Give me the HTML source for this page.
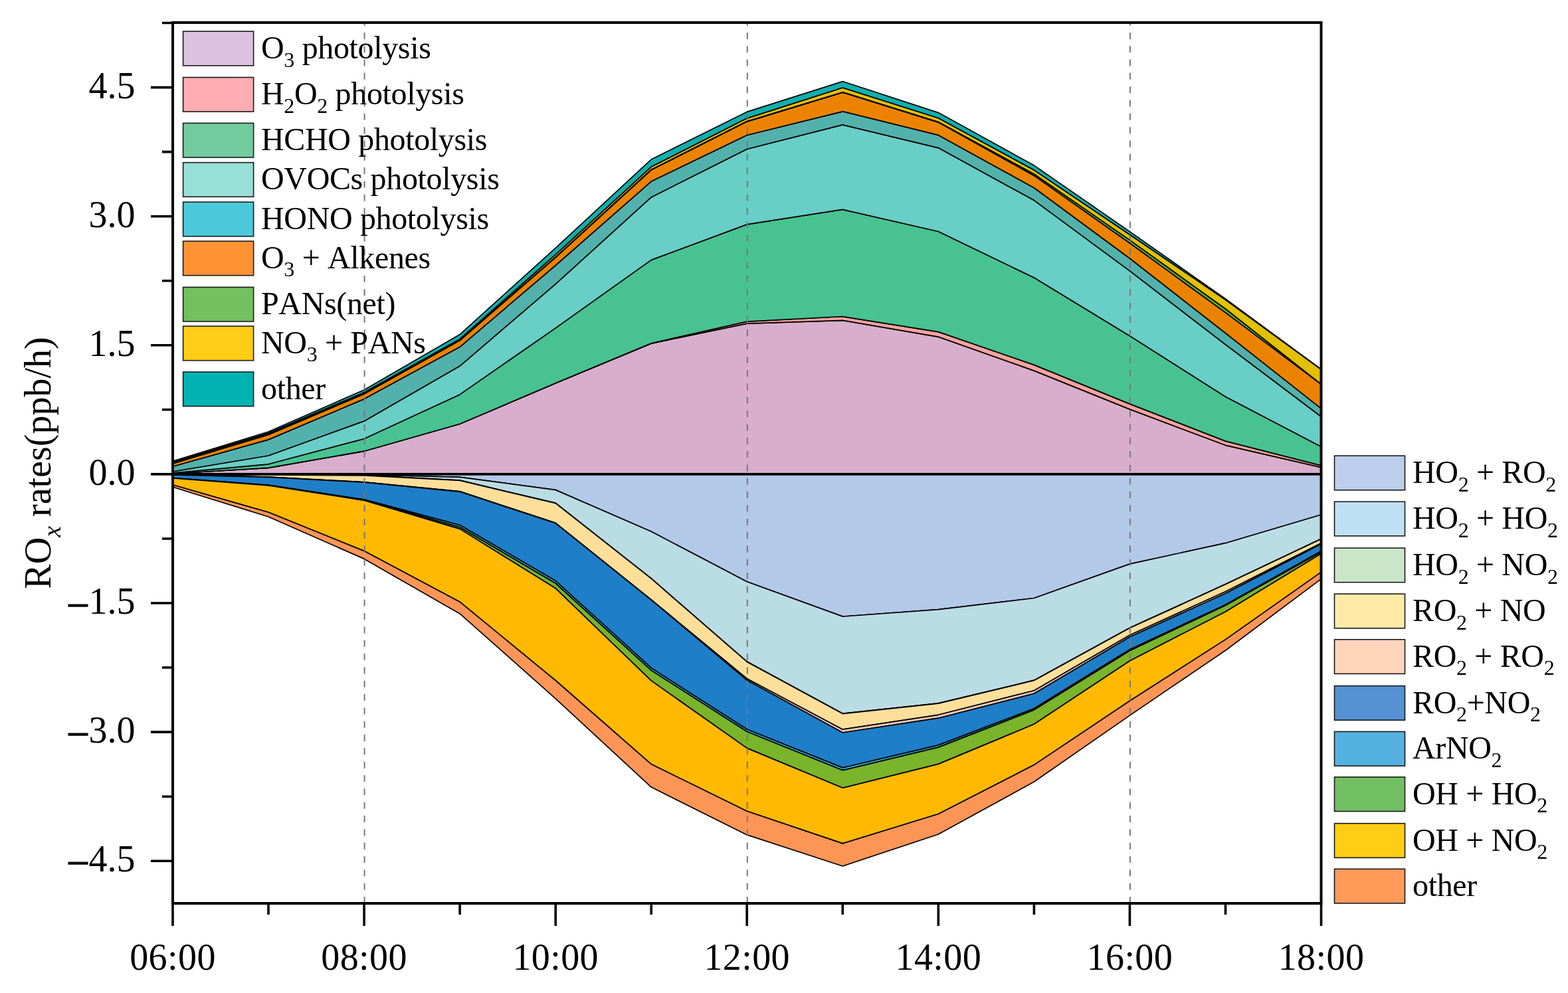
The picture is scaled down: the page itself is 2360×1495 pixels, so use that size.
<!DOCTYPE html><html><head><meta charset="utf-8"><title>ROx rates</title><style>html,body{margin:0;padding:0;background:#fff;}svg{display:block;}text{font-family:"Liberation Serif","Times New Roman",serif;fill:#000;font-kerning:none;}.lg{font-size:48px;letter-spacing:-0.35px;}.ax{font-size:56px;}.axx{letter-spacing:0.4px;}</style></head><body>
<svg width="2360" height="1495" viewBox="0 0 2360 1495">
<rect width="2360" height="1495" fill="#fff"/>
<g stroke="#000" stroke-width="1.7" stroke-linejoin="round">
<path fill="#D8AECC" d="M260 713 L404 704.4 L548.1 679.3 L692.1 638.3 L836.2 577 L980.2 517.1 L1124.2 487.1 L1268.3 482.4 L1412.3 507.1 L1556.4 558.1 L1700.4 616.1 L1844.5 670.3 L1988.5 703.7 L1988.5 713.9 L1844.5 713.9 L1700.4 713.9 L1556.4 713.9 L1412.3 713.9 L1268.3 713.9 L1124.2 713.9 L980.2 713.9 L836.2 713.9 L692.1 713.9 L548.1 713.9 L404 713.9 L260 713.9Z"/>
<path fill="#F7A39B" d="M260 713 L404 704.3 L548.1 679.2 L692.1 638.2 L836.2 576.8 L980.2 516.8 L1124.2 484.1 L1268.3 476.5 L1412.3 499.6 L1556.4 549.4 L1700.4 608.1 L1844.5 664.1 L1988.5 700.9 L1988.5 703.7 L1844.5 670.3 L1700.4 616.1 L1556.4 558.1 L1412.3 507.1 L1268.3 482.4 L1124.2 487.1 L980.2 517.1 L836.2 577 L692.1 638.3 L548.1 679.3 L404 704.4 L260 713Z"/>
<path fill="#49C292" d="M260 712.1 L404 698.8 L548.1 660.6 L692.1 593.9 L836.2 493.9 L980.2 391.4 L1124.2 337.9 L1268.3 315.4 L1412.3 348.5 L1556.4 418.1 L1700.4 505.7 L1844.5 597.3 L1988.5 672.6 L1988.5 700.9 L1844.5 664.1 L1700.4 608.1 L1556.4 549.4 L1412.3 499.6 L1268.3 476.5 L1124.2 484.1 L980.2 516.8 L836.2 576.8 L692.1 638.2 L548.1 679.2 L404 704.3 L260 713Z"/>
<path fill="#69CEC6" d="M260 710 L404 686 L548.1 633.9 L692.1 551.1 L836.2 427.6 L980.2 296.9 L1124.2 224.5 L1268.3 187.9 L1412.3 222.6 L1556.4 301.6 L1700.4 407.9 L1844.5 518.7 L1988.5 627.2 L1988.5 672.6 L1844.5 597.3 L1700.4 505.7 L1556.4 418.1 L1412.3 348.5 L1268.3 315.4 L1124.2 337.9 L980.2 391.4 L836.2 493.9 L692.1 593.9 L548.1 660.6 L404 698.8 L260 712.1Z"/>
<path fill="#53B1AC" d="M260 702.3 L404 661.9 L548.1 600.6 L692.1 522.3 L836.2 399.5 L980.2 273.1 L1124.2 203.5 L1268.3 167.8 L1412.3 203.4 L1556.4 282.8 L1700.4 389 L1844.5 501.5 L1988.5 615.1 L1988.5 627.2 L1844.5 518.7 L1700.4 407.9 L1556.4 301.6 L1412.3 222.6 L1268.3 187.9 L1124.2 224.5 L980.2 296.9 L836.2 427.6 L692.1 551.1 L548.1 633.9 L404 686 L260 710Z"/>
<path fill="#EC8300" d="M260 697.9 L404 654.5 L548.1 593.1 L692.1 512.6 L836.2 387.6 L980.2 255.8 L1124.2 183.1 L1268.3 139.2 L1412.3 184.1 L1556.4 264.4 L1700.4 366 L1844.5 470.6 L1988.5 578.5 L1988.5 615.1 L1844.5 501.5 L1700.4 389 L1556.4 282.8 L1412.3 203.4 L1268.3 167.8 L1124.2 203.5 L980.2 273.1 L836.2 399.5 L692.1 522.3 L548.1 600.6 L404 661.9 L260 702.3Z"/>
<path fill="#5DB030" d="M260 697.1 L404 653.5 L548.1 592 L692.1 511.8 L836.2 387 L980.2 255.2 L1124.2 182.5 L1268.3 138.7 L1412.3 183.6 L1556.4 262 L1700.4 361.4 L1844.5 465 L1988.5 578.3 L1988.5 578.5 L1844.5 470.6 L1700.4 366 L1556.4 264.4 L1412.3 184.1 L1268.3 139.2 L1124.2 183.1 L980.2 255.8 L836.2 387.6 L692.1 512.6 L548.1 593.1 L404 654.5 L260 697.9Z"/>
<path fill="#E3C000" d="M260 696.1 L404 652 L548.1 590.8 L692.1 510.5 L836.2 383.2 L980.2 251.1 L1124.2 178.1 L1268.3 132 L1412.3 177.7 L1556.4 256.1 L1700.4 353.3 L1844.5 451.2 L1988.5 556.3 L1988.5 578.3 L1844.5 465 L1700.4 361.4 L1556.4 262 L1412.3 183.6 L1268.3 138.7 L1124.2 182.5 L980.2 255.2 L836.2 387 L692.1 511.8 L548.1 592 L404 653.5 L260 697.1Z"/>
<path fill="#10AFAF" d="M260 694.4 L404 650 L548.1 587 L692.1 503.6 L836.2 373.4 L980.2 240 L1124.2 168.4 L1268.3 122.6 L1412.3 169.6 L1556.4 249.1 L1700.4 348.7 L1844.5 449.9 L1988.5 556 L1988.5 556.3 L1844.5 451.2 L1700.4 353.3 L1556.4 256.1 L1412.3 177.7 L1268.3 132 L1124.2 178.1 L980.2 251.1 L836.2 383.2 L692.1 510.5 L548.1 590.8 L404 652 L260 696.1Z"/>
<path fill="#B3C9E8" d="M260 714.5 L404 714.6 L548.1 715 L692.1 718.4 L836.2 737.6 L980.2 800.3 L1124.2 875.7 L1268.3 928.1 L1412.3 917.7 L1556.4 900.5 L1700.4 849.1 L1844.5 817.7 L1988.5 775 L1988.5 713.9 L1844.5 713.9 L1700.4 713.9 L1556.4 713.9 L1412.3 713.9 L1268.3 713.9 L1124.2 713.9 L980.2 713.9 L836.2 713.9 L692.1 713.9 L548.1 713.9 L404 713.9 L260 713.9Z"/>
<path fill="#BADCE5" d="M260 714.5 L404 714.8 L548.1 715.5 L692.1 723.2 L836.2 757.4 L980.2 870.9 L1124.2 996.1 L1268.3 1074.3 L1412.3 1058.9 L1556.4 1024.2 L1700.4 945.3 L1844.5 879.4 L1988.5 811.2 L1988.5 775 L1844.5 817.7 L1700.4 849.1 L1556.4 900.5 L1412.3 917.7 L1268.3 928.1 L1124.2 875.7 L980.2 800.3 L836.2 737.6 L692.1 718.4 L548.1 715 L404 714.6 L260 714.5Z"/>
<path fill="#C4E6C2" d="M260 714.6 L404 715 L548.1 716 L692.1 723.5 L836.2 757.7 L980.2 871.2 L1124.2 996.4 L1268.3 1074.6 L1412.3 1059.2 L1556.4 1024.5 L1700.4 945.6 L1844.5 879.7 L1988.5 811.5 L1988.5 811.2 L1844.5 879.4 L1700.4 945.3 L1556.4 1024.2 L1412.3 1058.9 L1268.3 1074.3 L1124.2 996.1 L980.2 870.9 L836.2 757.4 L692.1 723.2 L548.1 715.5 L404 714.8 L260 714.5Z"/>
<path fill="#FDDF9A" d="M260 714.8 L404 718 L548.1 725.9 L692.1 739.8 L836.2 787.4 L980.2 903 L1124.2 1021.7 L1268.3 1098.2 L1412.3 1076.3 L1556.4 1039.7 L1700.4 956.2 L1844.5 890.7 L1988.5 817.8 L1988.5 811.5 L1844.5 879.7 L1700.4 945.6 L1556.4 1024.5 L1412.3 1059.2 L1268.3 1074.6 L1124.2 996.4 L980.2 871.2 L836.2 757.7 L692.1 723.5 L548.1 716 L404 715 L260 714.6Z"/>
<path fill="#F5C8B8" d="M260 715 L404 718.3 L548.1 726.2 L692.1 740.3 L836.2 787.8 L980.2 903.3 L1124.2 1024 L1268.3 1103 L1412.3 1081.2 L1556.4 1044.3 L1700.4 958.9 L1844.5 893.5 L1988.5 819.1 L1988.5 817.8 L1844.5 890.7 L1700.4 956.2 L1556.4 1039.7 L1412.3 1076.3 L1268.3 1098.2 L1124.2 1021.7 L980.2 903 L836.2 787.4 L692.1 739.8 L548.1 725.9 L404 718 L260 714.8Z"/>
<path fill="#1F7EC8" d="M260 719.6 L404 730.4 L548.1 752 L692.1 790.6 L836.2 874.6 L980.2 1005.7 L1124.2 1098 L1268.3 1155.9 L1412.3 1121.9 L1556.4 1066.7 L1700.4 977.9 L1844.5 910.4 L1988.5 829.8 L1988.5 819.1 L1844.5 893.5 L1700.4 958.9 L1556.4 1044.3 L1412.3 1081.2 L1268.3 1103 L1124.2 1024 L980.2 903.3 L836.2 787.8 L692.1 740.3 L548.1 726.2 L404 718.3 L260 715Z"/>
<path fill="#2CB0D3" d="M260 719.8 L404 730.6 L548.1 752.7 L692.1 793.8 L836.2 878.3 L980.2 1009.4 L1124.2 1101.5 L1268.3 1159.7 L1412.3 1125.1 L1556.4 1068.9 L1700.4 979.8 L1844.5 911.5 L1988.5 831.2 L1988.5 829.8 L1844.5 910.4 L1700.4 977.9 L1556.4 1066.7 L1412.3 1121.9 L1268.3 1155.9 L1124.2 1098 L980.2 1005.7 L836.2 874.6 L692.1 790.6 L548.1 752 L404 730.4 L260 719.6Z"/>
<path fill="#79B42B" d="M260 720 L404 730.8 L548.1 753.4 L692.1 796.4 L836.2 885.8 L980.2 1024.9 L1124.2 1126.4 L1268.3 1186.2 L1412.3 1150.4 L1556.4 1090.3 L1700.4 995 L1844.5 920.9 L1988.5 833.5 L1988.5 831.2 L1844.5 911.5 L1700.4 979.8 L1556.4 1068.9 L1412.3 1125.1 L1268.3 1159.7 L1124.2 1101.5 L980.2 1009.4 L836.2 878.3 L692.1 793.8 L548.1 752.7 L404 730.6 L260 719.8Z"/>
<path fill="#FEB900" d="M260 730 L404 771.3 L548.1 829.6 L692.1 906.2 L836.2 1024.5 L980.2 1150.6 L1124.2 1221.3 L1268.3 1269.9 L1412.3 1225.5 L1556.4 1151.6 L1700.4 1055.2 L1844.5 962.9 L1988.5 861.4 L1988.5 833.5 L1844.5 920.9 L1700.4 995 L1556.4 1090.3 L1412.3 1150.4 L1268.3 1186.2 L1124.2 1126.4 L980.2 1024.9 L836.2 885.8 L692.1 796.4 L548.1 753.4 L404 730.8 L260 720Z"/>
<path fill="#FD9556" d="M260 733.3 L404 778 L548.1 841.4 L692.1 923.9 L836.2 1051.8 L980.2 1185.1 L1124.2 1256.9 L1268.3 1304 L1412.3 1256 L1556.4 1177 L1700.4 1077.1 L1844.5 979.2 L1988.5 871.6 L1988.5 861.4 L1844.5 962.9 L1700.4 1055.2 L1556.4 1151.6 L1412.3 1225.5 L1268.3 1269.9 L1124.2 1221.3 L980.2 1150.6 L836.2 1024.5 L692.1 906.2 L548.1 829.6 L404 771.3 L260 730Z"/>
</g>
<line x1="260" y1="713.9" x2="1988.5" y2="713.9" stroke="#000" stroke-width="3.6"/>
<line x1="548.6" y1="1360" x2="548.6" y2="34" stroke="#787878" stroke-width="2" stroke-dasharray="10 10.33"/>
<line x1="1124.8" y1="1360" x2="1124.8" y2="34" stroke="#787878" stroke-width="2" stroke-dasharray="10 10.33"/>
<line x1="1700.9" y1="1360" x2="1700.9" y2="34" stroke="#787878" stroke-width="2" stroke-dasharray="10 10.33"/>
<rect x="260" y="34" width="1728.5" height="1326" fill="none" stroke="#000" stroke-width="4"/>
<path d="M227 131.6H260M227 325.7H260M227 519.8H260M227 713.9H260M227 908H260M227 1102.1H260M227 1296.2H260M244 34.5H260M244 228.6H260M244 422.7H260M244 616.8H260M244 811H260M244 1005H260M244 1199.2H260M260 1360V1394M548.1 1360V1394M836.2 1360V1394M1124.2 1360V1394M1412.3 1360V1394M1700.4 1360V1394M1988.5 1360V1394M404 1360V1377M692.1 1360V1377M980.2 1360V1377M1268.3 1360V1377M1556.4 1360V1377M1844.5 1360V1377" stroke="#000" stroke-width="3.6" fill="none"/>
<text class="ax" x="203.5" y="147.6" text-anchor="end">4.5</text>
<text class="ax" x="203.5" y="341.7" text-anchor="end">3.0</text>
<text class="ax" x="203.5" y="535.8" text-anchor="end">1.5</text>
<text class="ax" x="203.5" y="729.9" text-anchor="end">0.0</text>
<text class="ax" x="203.5" y="924" text-anchor="end"><tspan stroke="#000" stroke-width="1.3" dy="1">&#8211;</tspan><tspan dx="2" dy="-1">1.5</tspan></text>
<text class="ax" x="203.5" y="1118.1" text-anchor="end"><tspan stroke="#000" stroke-width="1.3" dy="1">&#8211;</tspan><tspan dx="2" dy="-1">3.0</tspan></text>
<text class="ax" x="203.5" y="1312.2" text-anchor="end"><tspan stroke="#000" stroke-width="1.3" dy="1">&#8211;</tspan><tspan dx="2" dy="-1">4.5</tspan></text>
<text class="ax axx" x="260" y="1459.5" text-anchor="middle">06:00</text>
<text class="ax axx" x="548.1" y="1459.5" text-anchor="middle">08:00</text>
<text class="ax axx" x="836.2" y="1459.5" text-anchor="middle">10:00</text>
<text class="ax axx" x="1124.2" y="1459.5" text-anchor="middle">12:00</text>
<text class="ax axx" x="1412.3" y="1459.5" text-anchor="middle">14:00</text>
<text class="ax axx" x="1700.4" y="1459.5" text-anchor="middle">16:00</text>
<text class="ax axx" x="1988.5" y="1459.5" text-anchor="middle">18:00</text>
<text class="ax" transform="translate(75.7 697) rotate(-90)" text-anchor="middle">RO<tspan font-style="italic" font-size="38" dy="15">x</tspan><tspan dy="-15"> rates(ppb/h)</tspan></text>
<rect x="275.6" y="47.2" width="106" height="51.6" fill="#DCC1E0" stroke="#1a1a1a" stroke-width="1.6"/>
<text x="393" y="87.9" class="lg" xml:space="preserve"><tspan>O</tspan><tspan dy="12.6" font-size="32">3</tspan><tspan dy="-12.6"> photolysis</tspan></text>
<rect x="275.6" y="116.5" width="106" height="51.6" fill="#FFADB1" stroke="#1a1a1a" stroke-width="1.6"/>
<text x="393" y="157.2" class="lg" xml:space="preserve"><tspan>H</tspan><tspan dy="12.6" font-size="32">2</tspan><tspan dy="-12.6">O</tspan><tspan dy="12.6" font-size="32">2</tspan><tspan dy="-12.6"> photolysis</tspan></text>
<rect x="275.6" y="185.4" width="106" height="51.6" fill="#72CC9E" stroke="#1a1a1a" stroke-width="1.6"/>
<text x="393" y="226.1" class="lg" xml:space="preserve"><tspan>HCHO photolysis</tspan></text>
<rect x="275.6" y="244.7" width="106" height="51.6" fill="#98DFD7" stroke="#1a1a1a" stroke-width="1.6"/>
<text x="393" y="285.4" class="lg" xml:space="preserve"><tspan>OVOCs photolysis</tspan></text>
<rect x="275.6" y="304.2" width="106" height="51.6" fill="#4BC9DB" stroke="#1a1a1a" stroke-width="1.6"/>
<text x="393" y="344.9" class="lg" xml:space="preserve"><tspan>HONO photolysis</tspan></text>
<rect x="275.6" y="363.1" width="106" height="51.6" fill="#FF9334" stroke="#1a1a1a" stroke-width="1.6"/>
<text x="393" y="403.8" class="lg" xml:space="preserve"><tspan>O</tspan><tspan dy="12.6" font-size="32">3</tspan><tspan dy="-12.6"> + Alkenes</tspan></text>
<rect x="275.6" y="432.4" width="106" height="51.6" fill="#74BF60" stroke="#1a1a1a" stroke-width="1.6"/>
<text x="393" y="473.1" class="lg" xml:space="preserve"><tspan>PANs(net)</tspan></text>
<rect x="275.6" y="491.1" width="106" height="51.6" fill="#FFCD15" stroke="#1a1a1a" stroke-width="1.6"/>
<text x="393" y="531.8" class="lg" xml:space="preserve"><tspan>NO</tspan><tspan dy="12.6" font-size="32">3</tspan><tspan dy="-12.6"> + PANs</tspan></text>
<rect x="275.6" y="560" width="106" height="51.6" fill="#00B3B3" stroke="#1a1a1a" stroke-width="1.6"/>
<text x="393" y="600.7" class="lg" xml:space="preserve"><tspan>other</tspan></text>
<rect x="2008.5" y="686.2" width="106" height="51.6" fill="#BCCFED" stroke="#1a1a1a" stroke-width="1.6"/>
<text x="2126" y="727.1" class="lg" xml:space="preserve"><tspan>HO</tspan><tspan dy="12.6" font-size="32">2</tspan><tspan dy="-12.6"> + RO</tspan><tspan dy="12.6" font-size="32">2</tspan></text>
<rect x="2008.5" y="755.3" width="106" height="51.6" fill="#BEE0F3" stroke="#1a1a1a" stroke-width="1.6"/>
<text x="2126" y="796.2" class="lg" xml:space="preserve"><tspan>HO</tspan><tspan dy="12.6" font-size="32">2</tspan><tspan dy="-12.6"> + HO</tspan><tspan dy="12.6" font-size="32">2</tspan></text>
<rect x="2008.5" y="825.1" width="106" height="51.6" fill="#C9E7C6" stroke="#1a1a1a" stroke-width="1.6"/>
<text x="2126" y="866" class="lg" xml:space="preserve"><tspan>HO</tspan><tspan dy="12.6" font-size="32">2</tspan><tspan dy="-12.6"> + NO</tspan><tspan dy="12.6" font-size="32">2</tspan></text>
<rect x="2008.5" y="894.2" width="106" height="51.6" fill="#FFEAA8" stroke="#1a1a1a" stroke-width="1.6"/>
<text x="2126" y="935.1" class="lg" xml:space="preserve"><tspan>RO</tspan><tspan dy="12.6" font-size="32">2</tspan><tspan dy="-12.6"> + NO</tspan></text>
<rect x="2008.5" y="962.8" width="106" height="51.6" fill="#FFD6BC" stroke="#1a1a1a" stroke-width="1.6"/>
<text x="2126" y="1003.7" class="lg" xml:space="preserve"><tspan>RO</tspan><tspan dy="12.6" font-size="32">2</tspan><tspan dy="-12.6"> + RO</tspan><tspan dy="12.6" font-size="32">2</tspan></text>
<rect x="2008.5" y="1032.6" width="106" height="51.6" fill="#5591D3" stroke="#1a1a1a" stroke-width="1.6"/>
<text x="2126" y="1073.5" class="lg" xml:space="preserve"><tspan>RO</tspan><tspan dy="12.6" font-size="32">2</tspan><tspan dy="-12.6">+NO</tspan><tspan dy="12.6" font-size="32">2</tspan></text>
<rect x="2008.5" y="1101.5" width="106" height="51.6" fill="#55B2E0" stroke="#1a1a1a" stroke-width="1.6"/>
<text x="2126" y="1142.4" class="lg" xml:space="preserve"><tspan>ArNO</tspan><tspan dy="12.6" font-size="32">2</tspan></text>
<rect x="2008.5" y="1169.9" width="106" height="51.6" fill="#72BF63" stroke="#1a1a1a" stroke-width="1.6"/>
<text x="2126" y="1210.8" class="lg" xml:space="preserve"><tspan>OH + HO</tspan><tspan dy="12.6" font-size="32">2</tspan></text>
<rect x="2008.5" y="1239.7" width="106" height="51.6" fill="#FFCE14" stroke="#1a1a1a" stroke-width="1.6"/>
<text x="2126" y="1280.6" class="lg" xml:space="preserve"><tspan>OH + NO</tspan><tspan dy="12.6" font-size="32">2</tspan></text>
<rect x="2008.5" y="1308.3" width="106" height="51.6" fill="#FF9A59" stroke="#1a1a1a" stroke-width="1.6"/>
<text x="2126" y="1349.2" class="lg" xml:space="preserve"><tspan>other</tspan></text>
</svg></body></html>
